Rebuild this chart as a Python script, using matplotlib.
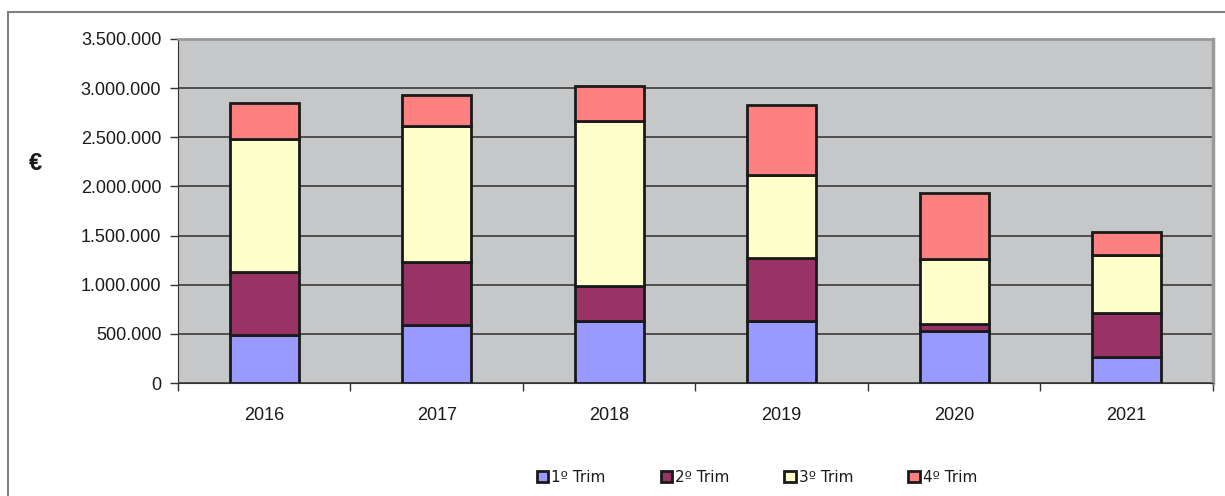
import matplotlib
matplotlib.use("Agg")
import matplotlib.pyplot as plt
import numpy as np
from matplotlib.patches import Rectangle
from matplotlib.ticker import FuncFormatter

# data (euros)
anos = ["2016", "2017", "2018", "2019", "2020", "2021"]
trim1 = [488000, 590000, 628000, 634000, 532000, 261000]
trim2 = [641000, 644000, 359000, 641000, 68000, 448000]
trim3 = [1351000, 1381000, 1682000, 844000, 658000, 590000]
trim4 = [372000, 312000, 353000, 709000, 678000, 241000]
series = ["1º Trim", "2º Trim", "3º Trim", "4º Trim"]
cores = ["#9999FF", "#993366", "#FFFFCC", "#FF8080"]

plt.rcParams['font.family'] = ['Liberation Sans', 'DejaVu Sans']

fig = plt.figure(figsize=(12.25, 4.96), dpi=100)
ax = fig.add_axes([0.1453, 0.2278, 0.990 - 0.1453, 0.9214 - 0.2278])
ax.set_facecolor("#C6C7C9")

# outer frame of the chart object
fig.patches.append(Rectangle((8 / 1225, -0.1), 1.2, 1 - 12 / 496 + 0.1,
                             transform=fig.transFigure, fill=False,
                             edgecolor="#808080", linewidth=1.5))

x = np.arange(len(anos))
bottom = np.zeros(len(anos))
for vals, lab, c in zip([trim1, trim2, trim3, trim4], series, cores):
    ax.bar(x, vals, 0.4, bottom=bottom, color=c, edgecolor="#1a1a1a",
           linewidth=2, label=lab, zorder=3)
    bottom += np.array(vals)

ax.set_xlim(-0.5, len(anos) - 0.5)
ax.set_ylim(0, 3500000)
ax.set_yticks(np.arange(0, 3500001, 500000))
ax.yaxis.set_major_formatter(FuncFormatter(lambda v, p: f"{int(v):,}".replace(",", ".")))
ax.grid(axis="y", color="#3a3a3a", linewidth=1.2, zorder=1)
ax.set_axisbelow(True)

ax.set_xticks(x)
ax.set_xticklabels(anos)
ax.set_xticks(np.arange(-0.5, len(anos)), minor=True)
ax.tick_params(axis="x", which="major", length=0, pad=17, labelsize=13, colors="#1a1a1a")
ax.tick_params(axis="x", which="minor", length=6, width=1, color="#333333")
ax.tick_params(axis="y", length=6, width=1, color="#333333", labelsize=13, labelcolor="#1a1a1a", pad=6)

ax.spines["left"].set_color("#333333")
ax.spines["bottom"].set_color("#333333")
ax.spines["top"].set_color("#999999")
ax.spines["right"].set_color("#999999")
ax.spines["top"].set_linewidth(2)
ax.spines["right"].set_linewidth(2.5)

fig.text(35 / 1225, 1 - 163 / 496, "€", fontsize=17, fontweight="bold",
         ha="center", va="center", color="#1a1a1a")

leg = fig.legend(loc="center", bbox_to_anchor=(757 / 1225, 1 - 477 / 496), ncol=4,
                 frameon=False, handlelength=0.75, handleheight=0.75,
                 handletextpad=0.2, columnspacing=3.6,
                 prop={"family": "DejaVu Sans", "size": 11})
for t in leg.get_texts():
    t.set_color("#1a1a1a")

fig.savefig("out.png", dpi=100)
